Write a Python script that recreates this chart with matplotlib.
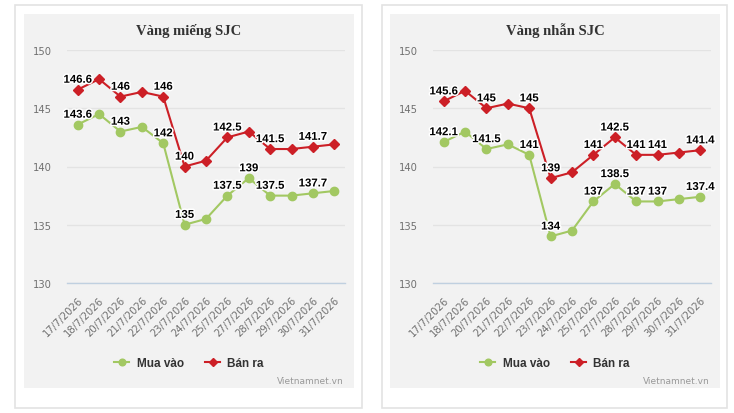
from matplotlib import pyplot as plt
from matplotlib import patheffects
from matplotlib import transforms
from matplotlib.patches import Rectangle

#   DATA
dates = ['17/7/2026', '18/7/2026', '20/7/2026', '21/7/2026', '22/7/2026', '23/7/2026', '24/7/2026',
         '25/7/2026', '27/7/2026', '28/7/2026', '29/7/2026', '30/7/2026', '31/7/2026']

mieng_mua = [143.6, 144.5, 143, 143.4, 142, 135, 135.5, 137.5, 139, 137.5, 137.5, 137.7, 137.9]
mieng_ban = [146.6, 147.5, 146, 146.4, 146, 140, 140.5, 142.5, 143, 141.5, 141.5, 141.7, 141.9]
nhan_mua = [142.1, 143, 141.5, 141.9, 141, 134, 134.5, 137, 138.5, 137, 137, 137.2, 137.4]
nhan_ban = [145.6, 146.5, 145, 145.4, 145, 139, 139.5, 141, 142.5, 141, 141, 141.2, 141.4]

#   WHICH POINTS KEEP A VISIBLE DATA LABEL
mieng_mua_labels = [0, 2, 4, 5, 7, 8, 9, 11]
mieng_ban_labels = [0, 2, 4, 5, 7, 9, 11]
nhan_mua_labels = [0, 2, 4, 5, 7, 8, 9, 10, 12]
nhan_ban_labels = [0, 2, 4, 5, 7, 8, 9, 10, 12]

y_ticks = [130, 135, 140, 145, 150]
series_names = ['Mua vào', 'Bán ra']
green = '#a2c862'
red = '#cc1f26'

W, H = 734, 414
fig = plt.figure(figsize=(W / 100, H / 100), dpi=100)
fig.patch.set_facecolor('white')


def box(x0, y0, x1, y1):
    # pixel box -> figure fraction [left, bottom, width, height]
    return [x0 / W, 1 - y1 / H, (x1 - x0) / W, (y1 - y0) / H]


def draw_panel(title, card, inner, plot, mua, ban, mua_labels, ban_labels):
    l, b, w, h = box(*card)
    fig.patches.append(Rectangle((l, b), w, h, transform=fig.transFigure,
                                 facecolor='white', edgecolor='#e3e3e3', linewidth=1.2, zorder=-10))
    l, b, w, h = box(*inner)
    fig.patches.append(Rectangle((l, b), w, h, transform=fig.transFigure,
                                 facecolor='#f2f2f2', edgecolor='none', zorder=-9))
    cx = (inner[0] + inner[2]) / 2
    fig.text(cx / W, 1 - 31 / H, title, ha='center', va='center', fontsize=10.5,
             fontweight='bold', family='Liberation Serif', color='#333333')
    fig.text((inner[2] - 10) / W, 1 - 382 / H, 'Vietnamnet.vn', ha='right', va='center',
             fontsize=6.5, color='#999999')

    ax = fig.add_axes(box(*plot))
    ax.set_facecolor('none')
    x = list(range(len(dates)))
    ax.plot(x, mua, color=green, marker='o', markersize=6, linewidth=1.5, clip_on=False,
            label=series_names[0], zorder=3)
    ax.plot(x, ban, color=red, marker='D', markersize=4.6, linewidth=1.5, clip_on=False,
            label=series_names[1], zorder=3)

    stroke = [patheffects.withStroke(linewidth=2.2, foreground='white')]
    for values, shown in ((mua, mua_labels), (ban, ban_labels)):
        for i in shown:
            ax.annotate('%g' % values[i], (i, values[i]), xytext=(0, 3.5), textcoords='offset points',
                        ha='center', va='bottom', fontsize=8.2, fontweight='bold', color='black',
                        family='Liberation Sans', path_effects=stroke, zorder=5)

    ax.set_xlim(-0.5, len(dates) - 0.5)
    ax.set_ylim(130, 150)
    ax.set_yticks(y_ticks)
    ax.set_xticks(x)
    ax.set_xticklabels(dates, rotation=45, ha='right', rotation_mode='anchor')
    shift = transforms.ScaledTranslation(-3 / 100, -2 / 100, fig.dpi_scale_trans)
    for lab in ax.get_xticklabels():
        lab.set_transform(lab.get_transform() + shift)
    ax.tick_params(axis='x', length=0, pad=8, labelsize=7.2, labelcolor='#707070')
    ax.tick_params(axis='y', length=0, pad=11, labelsize=7.2, labelcolor='#707070')
    ax.grid(axis='y', color='#e3e3e3', linewidth=1)
    ax.set_axisbelow(True)
    for side in ('top', 'right', 'left'):
        ax.spines[side].set_visible(False)
    ax.spines['bottom'].set_color('#c0d0e0')
    ax.spines['bottom'].set_linewidth(1)

    handles, names = ax.get_legend_handles_labels()
    leg = fig.legend(handles, names, loc='center', bbox_to_anchor=(cx / W, 1 - 364 / H), ncol=2,
                     frameon=False, handlelength=1.3, columnspacing=1.8, handletextpad=0.6,
                     markerscale=0.8, prop={'family': 'Liberation Sans', 'weight': 'bold', 'size': 8.5})
    for t in leg.get_texts():
        t.set_color('#333333')
    return ax


draw_panel('Vàng miếng SJC', (15, 6, 362, 409), (24, 15, 354, 389), (67, 51, 345, 284),
           mieng_mua, mieng_ban, mieng_mua_labels, mieng_ban_labels)
draw_panel('Vàng nhẫn SJC', (382, 6, 727, 409), (390, 15, 720, 389), (433, 51, 711, 284),
           nhan_mua, nhan_ban, nhan_mua_labels, nhan_ban_labels)

fig.savefig('out.png', dpi=100)
